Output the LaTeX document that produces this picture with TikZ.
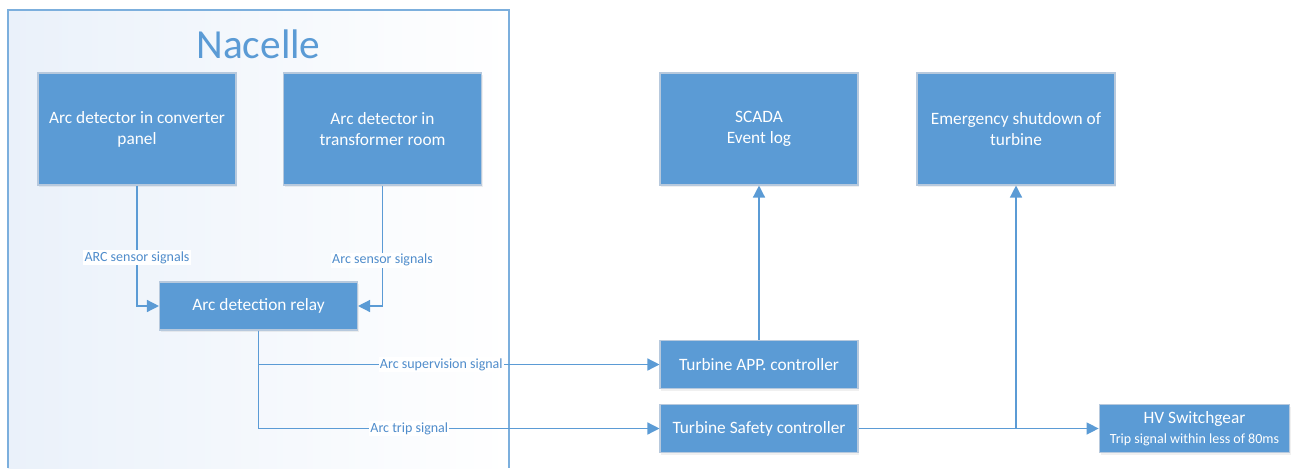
\documentclass[tikz,border=0pt]{standalone}
\usepackage{fontspec}
\setmainfont{Carlito}
\usetikzlibrary{arrows.meta,shadows}
\definecolor{boxblue}{HTML}{5B9BD5}
\definecolor{boxedge}{HTML}{B7C9DD}
\definecolor{lineblue}{HTML}{5B9BD5}
\definecolor{textblue}{HTML}{4F8CCB}
\definecolor{paleblue}{HTML}{EAF1FA}

\begin{document}
\begin{tikzpicture}[x=0.75pt,y=-0.75pt,
	block/.style={draw=boxedge, line width=0.8pt, fill=boxblue, text=white, align=center,
		font=\fontsize{13}{15.75}\selectfont, minimum width=148.5pt, inner sep=0pt,
		drop shadow={opacity=0.12, shadow xshift=1pt, shadow yshift=-1.5pt}},
	wire/.style={draw=lineblue, line width=1pt},
	arr/.style={wire, -{Triangle[length=9pt,width=9pt]}},
	lbl/.style={fill=white, text=textblue, font=\fontsize{10.5}{12}\selectfont, inner sep=1pt}]
			\useasboundingbox (0,0) rectangle (1291,468);
			% Nacelle area
			\shade[left color=paleblue, right color=white] (8,10) rectangle (509,468);
			\draw[draw=lineblue!80, line width=0.8pt] (8,468) -- (8,10) -- (509,10) -- (509,468);
			\node[text=boxblue, font=\fontsize{31}{33}\selectfont] (nacelle) at (258.5,44) {Nacelle};
			% boxes
			\node[block, minimum height=84pt] (conv) at (137,129) {Arc detector in converter\\panel};
			\node[block, minimum height=84pt] (trafo) at (382.5,129) {Arc detector in\\transformer room};
			\node[block, minimum height=84pt] (scada) at (759,129) {SCADA\\Event log};
			\node[block, minimum height=84pt] (shutdown) at (1016,129) {Emergency shutdown of\\turbine};
			\node[block, minimum height=36pt] (relay) at (258.5,306) {Arc detection relay};
			\node[block, minimum height=36pt] (app) at (759,364.5) {Turbine APP. controller};
			\node[block, minimum height=36pt] (safety) at (759,428.5) {Turbine Safety controller};
			\node[block, minimum height=36pt, minimum width=143pt] (hv) at (1194.5,428.5)
				{HV Switchgear\\[-1pt]{\fontsize{10.5}{12}\selectfont Trip signal within less of 80ms}};
			% signals
			\draw[arr] (conv.south) |- node[lbl, pos=0.3] {ARC sensor signals} (relay.west);
			\draw[arr] (trafo.south) |- node[lbl, pos=0.31] {Arc sensor signals} (relay.east);
			\draw[arr] (relay.south) |- node[lbl, pos=0.728] {Arc supervision signal} (app.west);
			\draw[arr] (relay.south) |- node[lbl, pos=0.688] {Arc trip signal} (safety.west);
			\draw[arr] (app.north) -- (scada.south);
			\draw[arr] (safety.east) -- (hv.west);
			\coordinate (split) at (shutdown.south |- safety.east);
			\draw[arr] (split) -- (shutdown.south);
\end{tikzpicture}
\end{document}
